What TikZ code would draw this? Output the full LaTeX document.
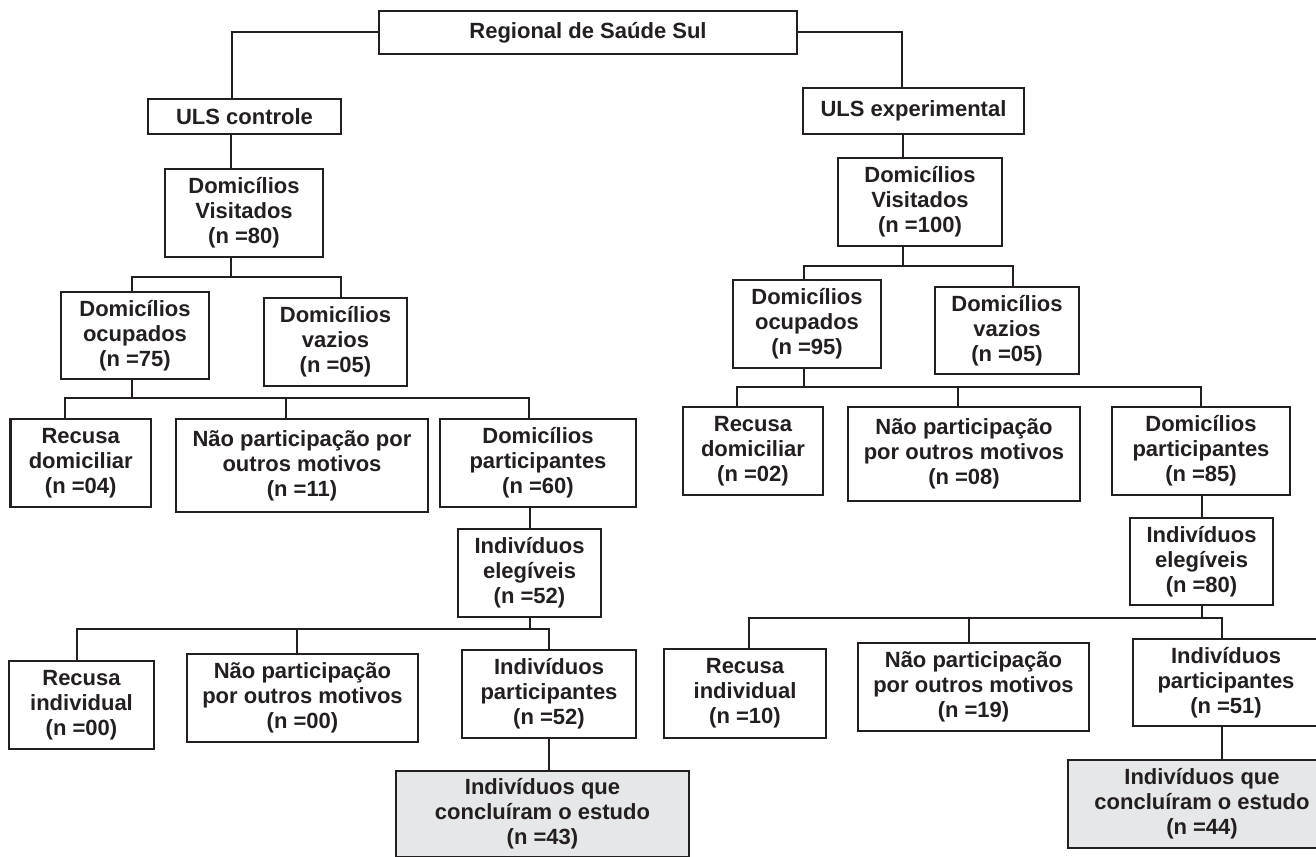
\documentclass[tikz,border=0pt]{standalone}
\usepackage{fontspec}
\setmainfont{Liberation Sans}

\definecolor{inkgray}{HTML}{231F20}
\definecolor{boxgray}{HTML}{E6E7E8}

\begin{document}
\begin{tikzpicture}[x=0.5pt, y=-0.5pt,
    flowbox/.style={draw=inkgray, line width=1.1pt, text=inkgray, align=center,
        inner sep=0pt, font=\bfseries\fontsize{11}{12.5}\selectfont},
    endbox/.style={flowbox, fill=boxgray},
    link/.style={draw=inkgray, line width=1pt}]
\useasboundingbox (0,0) rectangle (1316,856);

\node[flowbox, minimum width=209pt, minimum height=21.5pt] (reg) at (588,32.5) {Regional de Saúde Sul};

% ULS controle
\node[flowbox, minimum width=96.5pt, minimum height=17.5pt] (ulsc) at (244.5,116.5) {ULS controle};
\node[flowbox, minimum width=79pt, minimum height=44pt] (dvl) at (244,213) {Domicílios\\Visitados\\(n =80)};
\node[flowbox, minimum width=74pt, minimum height=43.5pt] (dol) at (135,335.5) {Domicílios\\ocupados\\(n =75)};
\node[flowbox, minimum width=71.5pt, minimum height=44pt] (dzl) at (335.5,342) {Domicílios\\vazios\\(n =05)};
\node[flowbox, minimum width=70.25pt, minimum height=44pt] (rdl) at (80.75,463) {Recusa\\domiciliar\\(n =04)};
\node[flowbox, minimum width=126pt, minimum height=46.5pt] (npl) at (302,465.5) {Não participação por\\outros motivos\\(n =11)};
\node[flowbox, minimum width=98pt, minimum height=44pt] (dpl) at (538,463) {Domicílios\\participantes\\(n =60)};
\node[flowbox, minimum width=71.5pt, minimum height=44pt] (iel) at (529.5,573) {Indivíduos\\elegíveis\\(n =52)};
\node[flowbox, minimum width=72.5pt, minimum height=44pt] (ril) at (81.5,705) {Recusa\\individual\\(n =00)};
\node[flowbox, minimum width=115.5pt, minimum height=44pt] (npl2) at (302.5,698) {Não participação\\por outros motivos\\(n =00)};
\node[flowbox, minimum width=87pt, minimum height=44pt] (ipl) at (549,694) {Indivíduos\\participantes\\(n =52)};
\node[endbox, minimum width=146.5pt, minimum height=43pt] (cel) at (542.5,814) {Indivíduos que\\concluíram o estudo\\(n =43)};

% ULS experimental
\node[flowbox, minimum width=110.5pt, minimum height=23pt] (ulse) at (913.5,111) {ULS experimental};
\node[flowbox, minimum width=82pt, minimum height=44pt] (dvr) at (920,202) {Domicílios\\Visitados\\(n =100)};
\node[flowbox, minimum width=74pt, minimum height=44pt] (dor) at (807,324) {Domicílios\\ocupados\\(n =95)};
\node[flowbox, minimum width=72pt, minimum height=43.5pt] (dzr) at (1007,330.5) {Domicílios\\vazios\\(n =05)};
\node[flowbox, minimum width=70pt, minimum height=44pt] (rdr) at (753,451) {Recusa\\domiciliar\\(n =02)};
\node[flowbox, minimum width=116pt, minimum height=47pt] (npr) at (964,454) {Não participação\\por outros motivos\\(n =08)};
\node[flowbox, minimum width=89pt, minimum height=44pt] (dpr) at (1201,451) {Domicílios\\participantes\\(n =85)};
\node[flowbox, minimum width=71.5pt, minimum height=43.5pt] (ier) at (1201.5,561.5) {Indivíduos\\elegíveis\\(n =80)};
\node[flowbox, minimum width=81pt, minimum height=44.5pt] (rir) at (745,693.5) {Recusa\\individual\\(n =10)};
\node[flowbox, minimum width=115.5pt, minimum height=44pt] (npr2) at (973.5,687) {Não participação\\por outros motivos\\(n =19)};
\node[flowbox, minimum width=93pt, minimum height=43.5pt] (ipr) at (1226,682.5) {Indivíduos\\participantes\\(n =51)};
\node[endbox, minimum width=134pt, minimum height=44pt] (cer) at (1202,804) {Indivíduos que\\concluíram o estudo\\(n =44)};

% left branch
\draw[link] (reg.west) -| ([xshift=-6.25pt]ulsc.north);
\coordinate (s1) at ([xshift=-6.75pt]ulsc.south);
\draw[link] (s1) -- (s1 |- dvl.north);
\coordinate (b1) at ([xshift=-6.5pt, yshift=-9.5pt]dvl.south);
\draw[link] ([xshift=-6.5pt]dvl.south) -- (b1) -| ([xshift=-1.5pt]dol.north)
    (b1) -| ([xshift=2.75pt]dzl.north);
\coordinate (b2) at ([xshift=-1.5pt, yshift=-9pt]dol.south);
\draw[link] ([xshift=-1.5pt]dol.south) -- (b2) -| ([xshift=-7.875pt]rdl.north)
    (b2) -| ([xshift=-8pt]npl.north)
    (b2) -| ([xshift=-4.5pt]dpl.north);
\draw[link] (iel.north |- dpl.south) -- (iel.north);
\coordinate (b3) at ([yshift=-5.5pt]iel.south);
\draw[link] (iel.south) -- (b3) -| ([xshift=-2.25pt]ril.north)
    (b3) -| ([xshift=-2.75pt]npl2.north)
    (b3) -| (ipl.north);
\draw[link] (ipl.south) -- (ipl.south |- cel.north);

% right branch
\draw[link] (reg.east) -| ([xshift=-5.75pt]ulse.north);
\coordinate (s2) at ([xshift=-5.25pt]ulse.south);
\draw[link] (s2) -- (s2 |- dvr.north);
\coordinate (b4) at ([xshift=-8.5pt, yshift=-9.5pt]dvr.south);
\draw[link] ([xshift=-8.5pt]dvr.south) -- (b4) -| ([xshift=-1.5pt]dor.north)
    (b4) -| ([xshift=3pt]dzr.north);
\coordinate (b5) at ([xshift=-1.5pt, yshift=-9pt]dor.south);
\draw[link] ([xshift=-1.5pt]dor.south) -- (b5) -| ([xshift=-8pt]rdr.north)
    (b5) -| ([xshift=-3pt]npr.north)
    (b5) -| (dpr.north);
\draw[link] (ier.north |- dpr.south) -- (ier.north);
\coordinate (b6) at ([yshift=-6pt]ier.south);
\draw[link] (ier.south) -- (b6) -| ([xshift=2pt]rir.north)
    (b6) -| ([xshift=-2.25pt]npr2.north)
    (b6) -| ([xshift=-2pt]ipr.north);
\coordinate (s3) at ([xshift=-2pt]ipr.south);
\draw[link] (s3) -- (s3 |- cer.north);
\end{tikzpicture}
\end{document}
